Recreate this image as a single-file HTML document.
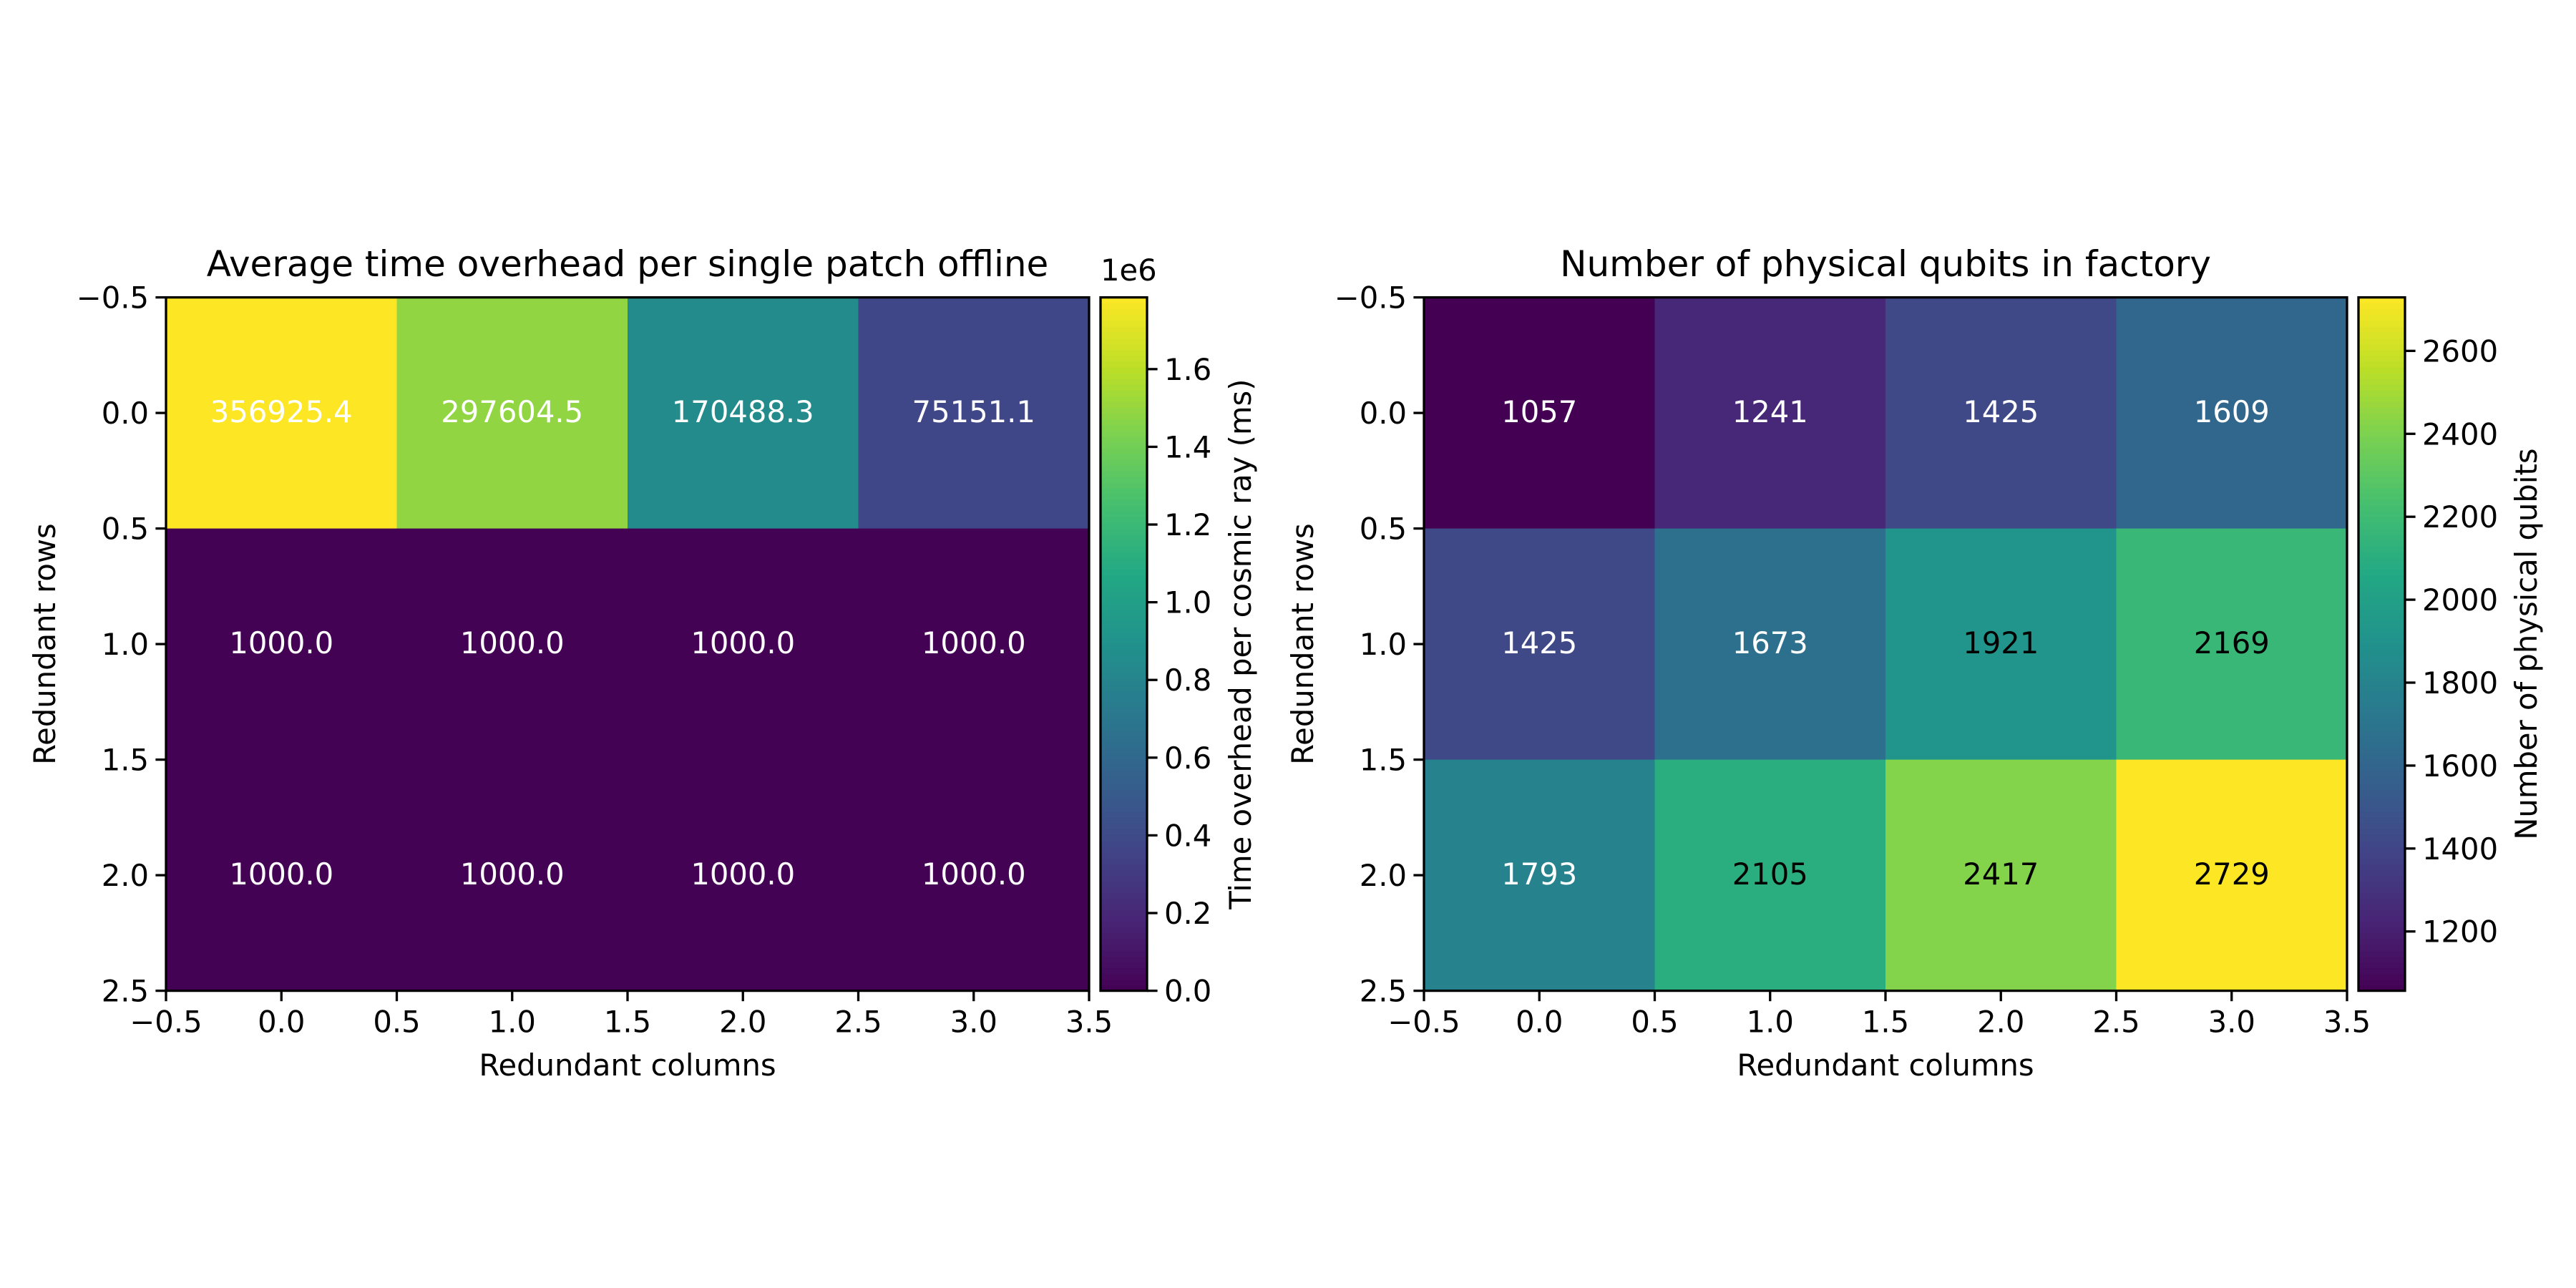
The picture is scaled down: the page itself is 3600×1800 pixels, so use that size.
<!DOCTYPE html>
<html><head><meta charset="utf-8"><style>
html,body{margin:0;padding:0;background:#fff;}
svg{display:block;font-family:"DejaVu Sans","Liberation Sans",sans-serif;}
</style></head><body>
<svg id="fig" width="3600" height="1800" viewBox="0 0 3600 1800" xmlns="http://www.w3.org/2000/svg">
<rect width="3600" height="1800" fill="#fff"/>
</svg>
<script>
// ---- data ----
const rowCats = [0, 1, 2];
const colCats = [0, 1, 2, 3];
const timeLabels = [[356925.4, 297604.5, 170488.3, 75151.1],[1000.0,1000.0,1000.0,1000.0],[1000.0,1000.0,1000.0,1000.0]];
const timeColorValues = [[1784627, 1488022, 852441, 375755],[5000,5000,5000,5000],[5000,5000,5000,5000]];
const qubitValues = [[1057,1241,1425,1609],[1425,1673,1921,2169],[1793,2105,2417,2729]];
const axisTicks = [-0.5, 0.0, 0.5, 1.0, 1.5, 2.0, 2.5, 3.0, 3.5];
const yAxisTicks = [-0.5, 0.0, 0.5, 1.0, 1.5, 2.0, 2.5];
const timeCbarTicks = [0, 0.2, 0.4, 0.6, 0.8, 1.0, 1.2, 1.4, 1.6];
const qubitCbarTicks = [1200,1400,1600,1800,2000,2200,2400,2600];

const VIR = ["#440154","#482475","#414487","#355f8d","#2a788e","#21918c","#22a884","#44bf70","#7ad151","#bddf26","#fde725"];
function hex(h){return [1,3,5].map(i=>parseInt(h.substr(i,2),16));}
function viridis(t){t=Math.max(0,Math.min(1,t));const p=t*10,i=Math.min(9,Math.floor(p)),f=p-i;const a=hex(VIR[i]),b=hex(VIR[i+1]);
return "rgb("+a.map((v,k)=>Math.round(v+(b[k]-v)*f)).join(",")+")";}
const NS="http://www.w3.org/2000/svg";
const svg=document.getElementById('fig');
function el(tag,attrs,parent,txt){const e=document.createElementNS(NS,tag);for(const k in attrs)e.setAttribute(k,attrs[k]);if(txt!==undefined)e.textContent=txt;(parent||svg).appendChild(e);return e;}
function fmt(v){return (v<0?"\u2212":"")+Math.abs(v).toFixed(1);}

function drawPanel(o){
  const g=el('g',{});
  
  
  const X0=o.x,Y0=415.6,W=1290,H=969;
  const xs=v=>X0+(v+0.5)/4*W, ys=v=>Y0+(v+0.5)/3*H;
  const norm=v=>(v-o.vmin)/(o.vmax-o.vmin);
  rowCats.forEach((r,ri)=>colCats.forEach((c,ci)=>{
    const cv=o.colors[ri][ci];
    const rc=el('rect',{x:xs(c-0.5),y:ys(r-0.5),width:xs(c+0.5)-xs(c-0.5)+0.5,height:ys(r+0.5)-ys(r-0.5)+0.5,fill:viridis(norm(cv))},g);
    
    
    const tc=o.textColor(norm(cv));
    const t=el('text',{x:xs(c),y:ys(r)+13,'text-anchor':'middle','font-size':41.7,fill:tc},g,o.fmtLabel(o.labels[ri][ci]));
    
    
  }));
  el('rect',{x:X0,y:Y0,width:W,height:H,fill:'none',stroke:'#000','stroke-width':3.3},g);
  axisTicks.forEach(v=>{
    el('line',{x1:xs(v),x2:xs(v),y1:Y0+H,y2:Y0+H+14.6,stroke:'#000','stroke-width':3.3},g);
    const t=el('text',{x:xs(v),y:Y0+H+58,'text-anchor':'middle','font-size':41.7},g,fmt(v));
    
    
  });
  yAxisTicks.forEach(v=>{
    el('line',{x1:X0-14.6,x2:X0,y1:ys(v),y2:ys(v),stroke:'#000','stroke-width':3.3},g);
    const t=el('text',{x:X0-24,y:ys(v)+15,'text-anchor':'end','font-size':41.7},g,fmt(v));
    
    
  });
  const tt=el('text',{x:X0+W/2,y:386,'text-anchor':'middle','font-size':50},g,o.title);
  
  
  const xl=el('text',{x:X0+W/2,y:1503,'text-anchor':'middle','font-size':41.7},g,'Redundant columns');
  
  
  const yx=X0-155;
  const yl=el('text',{x:yx,y:Y0+H/2,'text-anchor':'middle','font-size':41.7,transform:`rotate(-90 ${yx} ${Y0+H/2})`},g,'Redundant rows');
  
  
  // colorbar
  const CX=X0+W+16,CW=65;
  const cb=el('g',{},g);
  
  
  const N=120;
  for(let i=0;i<N;i++){
    el('rect',{x:CX,y:Y0+H-(i+1)*H/N,width:CW,height:H/N+0.8,fill:viridis((i+0.5)/N)},cb);
  }
  el('rect',{x:CX,y:Y0,width:CW,height:H,fill:'none',stroke:'#000','stroke-width':3.3},cb);
  const cy=v=>Y0+H-norm(v)*H;
  o.cbTicks.forEach(v=>{
    const vv=v*o.cbScale;
    el('line',{x1:CX+CW,x2:CX+CW+14.6,y1:cy(vv),y2:cy(vv),stroke:'#000','stroke-width':3.3},cb);
    const t=el('text',{x:CX+CW+24,y:cy(vv)+15,'font-size':41.7},cb,o.cbFmt(v));
    
    
  });
  const lx=o.cbLabelX;
  const cl=el('text',{x:lx,y:Y0+H/2,'text-anchor':'middle','font-size':41.7,transform:`rotate(-90 ${lx} ${Y0+H/2})`},cb,o.cbLabel);
  
  
  if(o.offset){
    const ot=el('text',{x:CX,y:392,'font-size':41.7},cb,o.offset);
    
    
  }
}
drawPanel({name:'time-overhead-heatmap',x:232,labels:timeLabels,colors:timeColorValues,vmin:0,vmax:1784627,
  textColor:()=> '#fff',fmtLabel:v=>v.toFixed(1),title:'Average time overhead per single patch offline',
  cbTicks:timeCbarTicks,cbScale:1e6,cbFmt:v=>v.toFixed(1),cbLabel:'Time overhead per cosmic ray (ms)',cbLabelX:1748,offset:'1e6'});
drawPanel({name:'physical-qubits-heatmap',x:1990,labels:qubitValues,colors:qubitValues,vmin:1057,vmax:2729,
  textColor:t=>t>0.5?'#000':'#fff',fmtLabel:v=>String(v),title:'Number of physical qubits in factory',
  cbTicks:qubitCbarTicks,cbScale:1,cbFmt:v=>String(v),cbLabel:'Number of physical qubits',cbLabelX:3545});
</script>
</body></html>
